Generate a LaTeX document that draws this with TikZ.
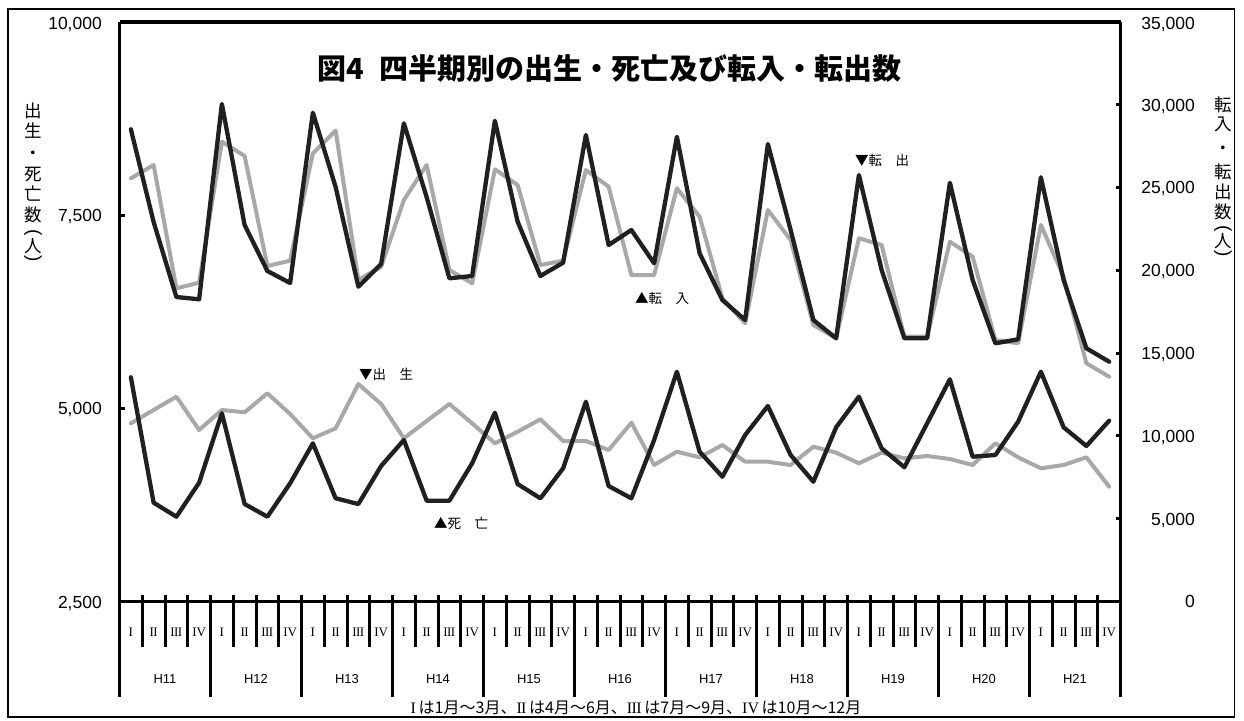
\documentclass[tikz,border=0pt]{standalone}
\usepackage{fontspec}
\setmainfont{Liberation Sans}
\newfontfamily\jp{Noto Sans CJK JP}
\newfontfamily\romf{Liberation Serif}
\newcommand\romII{I\kern-0.6pt I}
\newcommand\romIII{I\kern-0.6pt I\kern-0.6pt I}
\definecolor{sergray}{HTML}{A8A8A8}
\definecolor{serblack}{HTML}{202020}
\tikzset{
  outerframe/.style={line width=1.8pt},
  axisline/.style={line width=3.6pt},
  tickline/.style={line width=3pt},
  grayser/.style={line width=4pt, draw=sergray, line join=round, line cap=round},
  blackser/.style={line width=4.3pt, draw=serblack, line join=round, line cap=round},
  numlab/.style={anchor=east, inner sep=0pt, font=\fontsize{17.5}{18}\selectfont, text height=12.5pt, text depth=0pt},
  vlab/.style={anchor=center, inner sep=0pt, font=\jp\fontsize{17.5}{18}\selectfont, text height=13.3pt, text depth=0pt},
  parlab/.style={anchor=center, inner sep=0pt, rotate=-90, font=\fontsize{19}{19}\selectfont},
  romlab/.style={anchor=center, inner sep=0pt, font=\romf\fontsize{13}{13}\selectfont, text height=8.6pt, text depth=0pt},
  yrlab/.style={anchor=center, inner sep=0pt, font=\fontsize{13}{14}\selectfont, text height=9.3pt, text depth=0pt},
  leglab/.style={anchor=west, inner sep=0pt, font=\jp\fontsize{13.5}{14}\selectfont, text height=10.3pt, text depth=0pt},
  titlelab/.style={anchor=west, inner sep=0pt, font=\jp\bfseries\fontsize{29}{30}\selectfont, text height=22pt, text depth=0pt},
  notelab/.style={anchor=center, inner sep=0pt, font=\jp\fontsize{16}{17}\selectfont, text height=12.2pt, text depth=0pt}
}
\begin{document}
\begin{tikzpicture}[x=1pt,y=-1pt]
\useasboundingbox (0,0) rectangle (1244,720);
% outer frame
\draw[outerframe] (8.3,9) rectangle (1234.5,717);
% series: birth (gray), death (black), in (gray), out (black)
\draw[grayser] (130.875,423.3) foreach \v [count=\i] in {410,396.7,430,410,412.3,393.3,414,438.3,428.3,384,404,438.3,421,404,423.3,443.3,431.7,419.3,441,441,450,422.7,465,451.7,457.3,445,461.7,461.7,465,446.7,452.7,463.3,452.7,458.3,456,459,465,443.3,457.3,468.3,465,457.3,486.7} { -- ({130.875+22.75*\i},\v) };
\draw[blackser] (130.875,377.3) foreach \v [count=\i] in {502.7,516.7,482.7,413.3,504,516.7,483.3,443.3,498.3,504,466,440,500.7,500.7,463.3,412.7,484,498.3,468.3,401.7,486,498.3,440,371.7,451.7,476.7,435,406,455,481.7,427.3,396.7,448.3,467.3,423.3,379.3,456.7,455,421.7,371.7,427.3,446,420.7} { -- ({130.875+22.75*\i},\v) };
\draw[grayser] (130.875,178.3) foreach \v [count=\i] in {165,288.3,282.7,141.7,156,266,260.7,153.3,130.7,280,266.7,200,165,270,283.3,169.3,185,265,260.7,170,186.7,275,275,188.3,216.7,298.3,323.3,210,240,325,338.3,238.3,245,336.7,336.7,241.7,256.7,340,343.3,225,276.7,363.3,376.7} { -- ({130.875+22.75*\i},\v) };
\draw[blackser] (130.875,129.3) foreach \v [count=\i] in {222,297,299.3,104,225,271,283,112.7,187,286.7,264,123.3,197,278.3,276,120.7,221.7,276,262.7,135,245,230,263.3,136.7,253.3,300,320,144,230,320,338.3,175,270,338.3,338.3,182.7,280,343.3,339.3,177.3,280,348.3,361.7} { -- ({130.875+22.75*\i},\v) };
% plot frame and axes
\draw[axisline] (119.5,22) -- (1120.5,22);
\draw[axisline] (119.5,601.5) -- (1120.5,601.5);
\draw[axisline] (119.5,22) -- (119.5,697);
\draw[axisline] (1120.5,22) -- (1120.5,697);
% y ticks
\foreach \yy in {215.2,408.3} \draw[tickline] (119.5,\yy) -- (124.5,\yy);
\foreach \yy in {104.8,187.5,270.3,353.1,435.9,518.7} \draw[tickline] (1115.5,\yy) -- (1120.5,\yy);
% x ticks
\foreach \k in {1,...,43} {
  \pgfmathtruncatemacro\m{mod(\k,4)}
  \ifnum\m=0
    \draw[tickline] ({119.5+22.75*\k},595) -- ({119.5+22.75*\k},697);
  \else
    \draw[tickline] ({119.5+22.75*\k},595) -- ({119.5+22.75*\k},647);
  \fi
}
% left tick labels
\node[numlab] (l10000) at (102,23) {10,000};
\node[numlab] (l7500) at (102,215.5) {7,500};
\node[numlab] (l5000) at (102,408.5) {5,000};
\node[numlab] (l2500) at (102,602) {2,500};
% right tick labels
\foreach \t/\yy [count=\n] in {35{,}000/23,30{,}000/105,25{,}000/187.7,20{,}000/270.5,15{,}000/353.3,10{,}000/436,5{,}000/518.8,0/601.5}
  \node[numlab] (r\n) at (1195,\yy) {\t};
% axis titles (vertical)
\foreach \c/\yy [count=\n] in {出/111,生/131,・/153,死/174,亡/194,数/215,人/246}
  \node[vlab] (lt\n) at (33,\yy) {\c};
\node[parlab] (ltpo) at (33,233) {(};
\node[parlab] (ltpc) at (33,259) {)};
\foreach \c/\yy [count=\n] in {転/105,入/124,・/148,転/172,出/192,数/212,人/241}
  \node[vlab] (rt\n) at (1223,\yy) {\c};
\node[parlab] (rtpo) at (1223,228.5) {(};
\node[parlab] (rtpc) at (1223,254) {)};
% quarter labels
\foreach \yr in {0,...,10}
  \foreach \q/\r in {0/I,1/\romII,2/\romIII,3/IV}
    \node[romlab] (q\yr-\q) at ({130.875+22.75*(4*\yr+\q)},632) {\r};
% year labels
\foreach \nn [count=\k from 0] in {11,...,21}
  \node[yrlab] (yr\nn) at ({119.5+91*(\k+0.5)},679) {H\nn};
% title
\node[titlelab] (title) at (317,68.5) {図4\hspace{0.55em}四半期別の出生・死亡及び転入・転出数};
% series labels
\node[leglab] (lout) at (855,160) {▼転　出};
\node[leglab] (lin) at (635,298) {▲転　入};
\node[leglab] (lbirth) at (359,374) {▼出　生};
\node[leglab] (ldeath) at (434,523) {▲死　亡};
% footnote
\node[notelab] (note) at (636,707) {{\romf I}\,は1月～3月、{\romf \romII}\,は4月～6月、{\romf \romIII}\,は7月～9月、{\romf IV}\,は10月～12月};
\end{tikzpicture}
\end{document}
